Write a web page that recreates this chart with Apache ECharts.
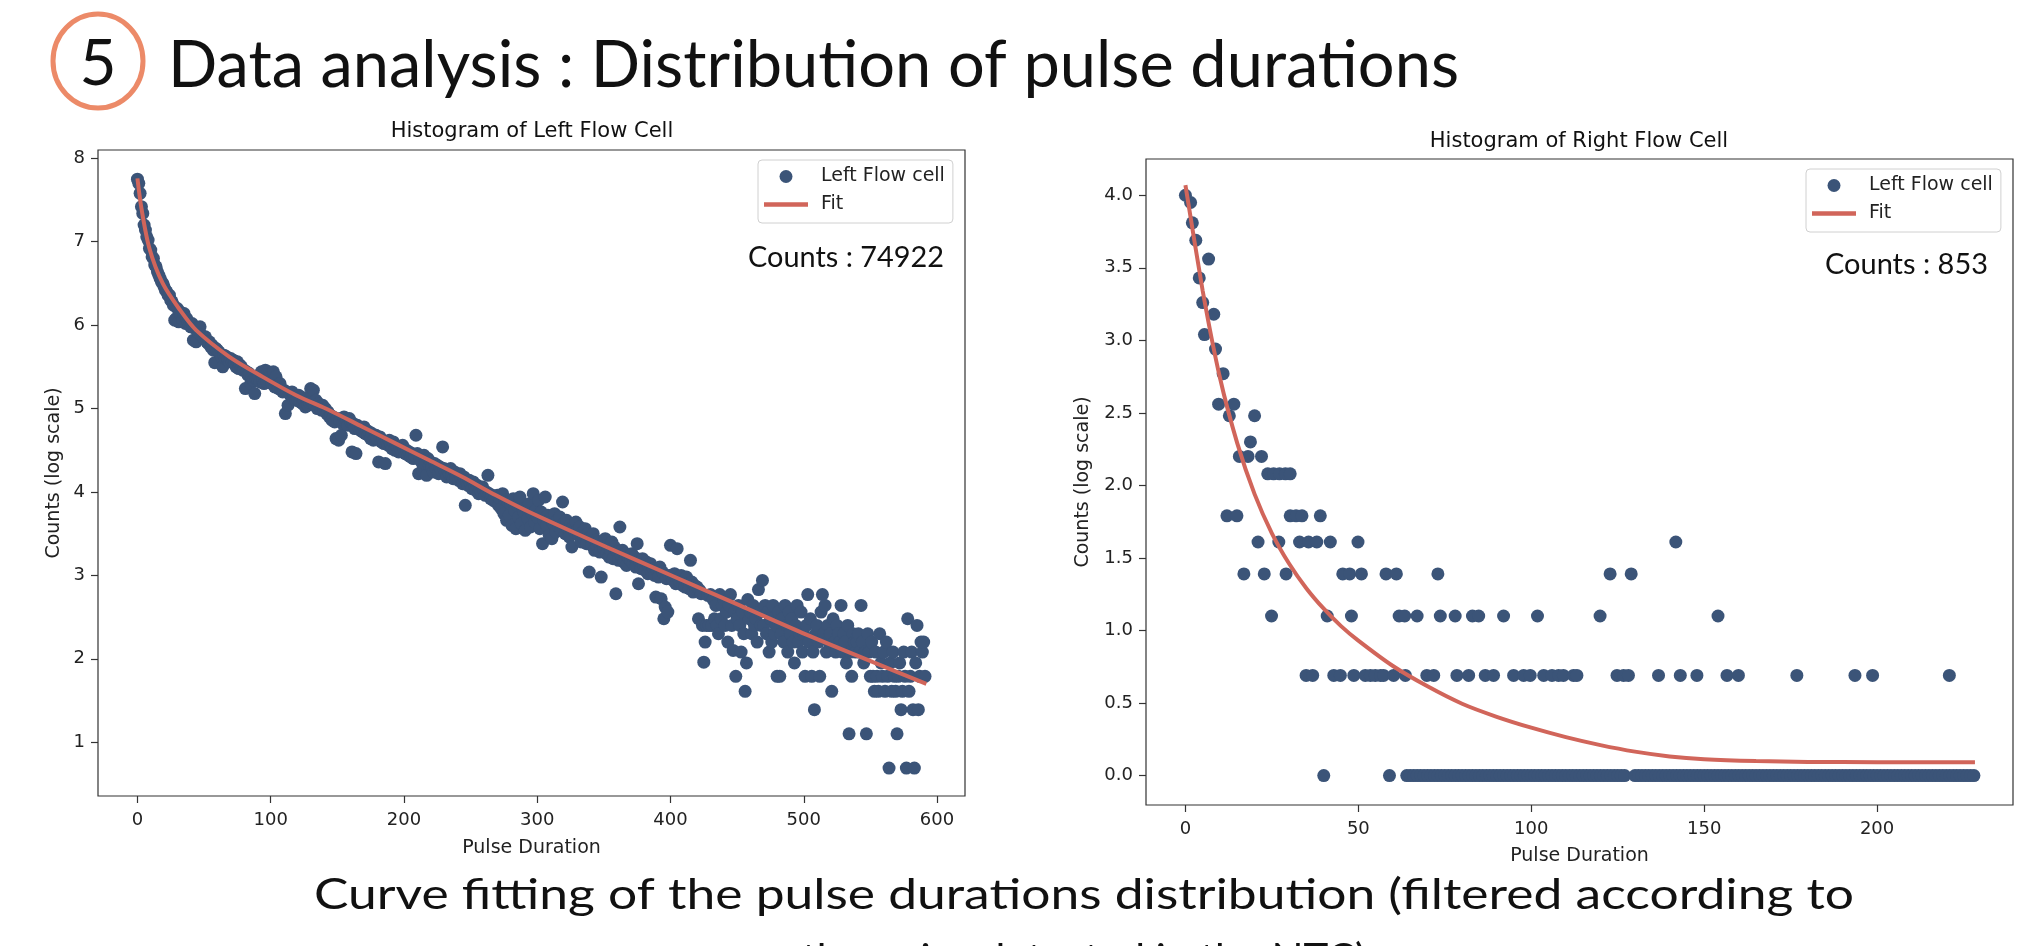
<!DOCTYPE html>
<html>
<head>
<meta charset="utf-8">
<title>Data analysis : Distribution of pulse durations</title>
<script src="https://cdn.jsdelivr.net/npm/echarts@6/dist/echarts.min.js"></script>
<style>
  html, body { margin: 0; padding: 0; background: #fff; }
  #chart { width: 2036px; height: 946px; }
</style>
</head>
<body>
<div id="chart"></div>
<script>
// log(counts) per pulse-duration bin, left flow cell (bin index = pulse duration)
const leftLogCounts = [
  7.75, 7.70, 7.58, 7.42, 7.34, 7.20, 7.14, 7.06, 7.02, 6.92,
  6.90, 6.82, 6.80, 6.72, 6.70, 6.64, 6.60, 6.56, 6.52, 6.50,
  6.46, 6.42, 6.40, 6.36, 6.36, 6.30, 6.28, 6.24, 6.06, 6.08,
  6.20, 6.04, 6.16, 6.12, 6.06, 6.14, 6.02, 6.08, 6.04, 6.00,
  5.98, 6.02, 5.82, 5.96, 5.80, 5.94, 5.90, 5.98, 5.88, 5.86,
  5.84, 5.86, 5.80, 5.78, 5.80, 5.74, 5.76, 5.70, 5.55, 5.72,
  5.70, 5.68, 5.66, 5.62, 5.50, 5.64, 5.60, 5.62, 5.58, 5.56,
  5.60, 5.56, 5.58, 5.54, 5.50, 5.56, 5.48, 5.52, 5.50, 5.46,
  5.46, 5.24, 5.44, 5.40, 5.42, 5.30, 5.38, 5.34, 5.18, 5.36,
  5.36, 5.40, 5.32, 5.44, 5.34, 5.30, 5.46, 5.32, 5.44, 5.42,
  5.40, 5.30, 5.44, 5.26, 5.38, 5.28, 5.24, 5.30, 5.22, 5.20,
  5.22, 4.94, 5.20, 5.04, 5.18, 5.16, 5.20, 5.12, 5.14, 5.10,
  5.12, 5.16, 5.08, 5.14, 5.06, 5.10, 5.02, 5.12, 5.04, 5.08,
  5.24, 5.08, 5.22, 5.04, 5.10, 5.00, 5.06, 5.02, 4.98, 5.04,
  4.98, 5.00, 4.94, 4.96, 4.90, 4.92, 4.86, 4.90, 4.84, 4.64,
  4.88, 4.62, 4.86, 4.68, 4.82, 4.90, 4.84, 4.86, 4.80, 4.88,
  4.84, 4.48, 4.82, 4.76, 4.46, 4.80, 4.78, 4.74, 4.76, 4.72,
  4.78, 4.70, 4.74, 4.68, 4.72, 4.64, 4.70, 4.62, 4.66, 4.68,
  4.64, 4.36, 4.66, 4.60, 4.62, 4.58, 4.34, 4.60, 4.56, 4.62,
  4.58, 4.52, 4.60, 4.50, 4.56, 4.54, 4.48, 4.52, 4.50, 4.56,
  4.52, 4.46, 4.50, 4.44, 4.48, 4.42, 4.46, 4.40, 4.44, 4.68,
  4.46, 4.22, 4.42, 4.36, 4.26, 4.44, 4.34, 4.20, 4.40, 4.32,
  4.36, 4.30, 4.24, 4.34, 4.28, 4.32, 4.22, 4.30, 4.26, 4.54,
  4.28, 4.24, 4.18, 4.26, 4.22, 4.28, 4.20, 4.16, 4.24, 4.18,
  4.20, 4.14, 4.22, 4.16, 4.10, 4.18, 3.84, 4.12, 4.08, 4.14,
  4.10, 4.04, 4.12, 4.06, 4.02, 4.08, 3.98, 4.04, 4.00, 4.06,
  4.02, 3.96, 4.00, 4.20, 3.98, 3.92, 3.96, 3.90, 3.94, 3.88,
  3.96, 3.84, 3.92, 3.80, 3.98, 3.74, 3.90, 3.66, 3.88, 3.72,
  3.86, 3.60, 3.92, 3.78, 3.56, 3.84, 3.70, 3.94, 3.62, 3.80,
  3.76, 3.54, 3.82, 3.68, 3.86, 3.58, 3.74, 3.98, 3.64, 3.78,
  3.70, 3.90, 3.56, 3.76, 3.38, 3.66, 3.94, 3.60, 3.72, 3.48,
  3.68, 3.44, 3.62, 3.74, 3.52, 3.66, 3.58, 3.70, 3.54, 3.88,
  3.62, 3.50, 3.66, 3.56, 3.46, 3.60, 3.34, 3.58, 3.52, 3.64,
  3.54, 3.48, 3.58, 3.40, 3.52, 3.44, 3.56, 3.38, 3.50, 3.04,
  3.46, 3.36, 3.50, 3.30, 3.42, 3.34, 3.40, 3.28, 2.98, 3.38,
  3.32, 3.44, 3.26, 3.36, 3.22, 3.30, 3.40, 3.20, 3.34, 2.78,
  3.28, 3.18, 3.58, 3.24, 3.30, 3.16, 3.26, 3.12, 3.22, 3.20,
  3.18, 3.26, 3.14, 3.22, 3.10, 3.38, 2.90, 3.16, 3.08, 3.20,
  3.12, 3.06, 3.16, 3.02, 3.10, 3.14, 3.04, 3.08, 3.00, 2.74,
  3.06, 2.98, 3.10, 2.72, 3.04, 2.48, 2.62, 2.96, 2.56, 3.00,
  3.36, 2.98, 2.94, 3.02, 2.90, 3.32, 2.96, 2.92, 3.00, 2.88,
  2.94, 2.86, 2.98, 2.90, 2.84, 3.18, 2.92, 2.80, 2.88, 2.84,
  2.86, 2.48, 2.82, 2.78, 2.40, 1.96, 2.20, 2.40, 2.76, 2.40,
  2.77, 2.40, 2.71, 2.48, 2.64, 2.40, 2.30, 2.77, 2.48, 2.64,
  2.71, 2.40, 2.56, 2.20, 2.64, 2.77, 2.40, 2.10, 2.56, 1.79,
  2.48, 2.64, 2.40, 2.08, 2.56, 2.30, 1.61, 1.95, 2.71, 2.48,
  2.56, 2.30, 2.64, 2.40, 2.48, 2.20, 2.83, 2.56, 2.40, 2.94,
  2.40, 2.64, 2.30, 2.56, 2.08, 2.48, 2.20, 2.64, 2.30, 2.40,
  1.79, 2.56, 1.79, 2.30, 2.48, 2.20, 2.64, 2.40, 2.08, 2.56,
  2.30, 2.48, 2.20, 1.95, 2.40, 2.64, 2.20, 2.30, 2.56, 2.08,
  2.30, 1.79, 2.40, 2.77, 2.20, 2.48, 1.79, 2.08, 1.39, 2.30,
  2.40, 2.20, 1.79, 2.56, 2.77, 2.30, 2.64, 2.08, 2.40, 2.20,
  2.30, 1.61, 2.48, 2.20, 2.08, 2.40, 2.30, 2.20, 2.64, 2.08,
  2.30, 2.20, 1.95, 2.40, 1.10, 2.08, 1.79, 2.30, 2.20, 2.08,
  2.20, 2.30, 2.08, 2.64, 2.20, 1.95, 2.08, 1.10, 2.30, 2.08,
  1.79, 2.20, 1.79, 1.61, 2.08, 1.79, 1.61, 2.30, 1.95, 1.79,
  2.08, 1.61, 2.20, 1.79, 0.69, 1.95, 1.61, 2.08, 1.79, 1.61,
  1.10, 1.79, 1.95, 1.39, 1.61, 2.08, 1.79, 0.69, 2.48, 1.61,
  1.79, 2.08, 1.39, 0.69, 1.95, 2.40, 1.39, 1.79, 2.20, 2.08,
  2.20, 1.79
];

// fitted curve, left flow cell: [pulse duration, log count]
const leftFit = [
  [0, 7.76], [3, 7.40], [9, 6.92], [19, 6.50], [32, 6.18], [44, 5.94],
  [69, 5.62], [94, 5.38], [119, 5.16], [144, 4.98], [169, 4.78], [194, 4.58],
  [219, 4.38], [244, 4.18], [269, 3.96], [294, 3.76], [352, 3.34], [402, 2.99],
  [452, 2.64], [502, 2.29], [552, 1.96], [592, 1.70]
];

// right flow cell bins with count > 1: [pulse duration, log count]
const rightPoints = [
  [0, 4.00], [1.5, 3.95], [2, 3.81], [3, 3.69], [4, 3.43], [5, 3.26], [5.5, 3.04],
  [6.7, 3.56], [8.2, 3.18], [8.7, 2.94], [9.6, 2.56], [10.9, 2.77], [12.7, 2.48],
  [14, 2.56], [15.6, 2.20], [18.1, 2.20], [18.8, 2.30], [20, 2.48], [22, 2.20],
  [23.8, 2.08], [25.5, 2.08], [27.2, 2.08], [28.9, 2.08], [30.3, 2.08],
  [12, 1.79], [14.9, 1.79], [30.3, 1.79], [32, 1.79], [33.7, 1.79], [39, 1.79],
  [21, 1.61], [27, 1.61], [33, 1.61], [35.6, 1.61], [38, 1.61], [41.9, 1.61], [49.9, 1.61], [141.8, 1.61],
  [16.9, 1.39], [22.8, 1.39], [29.1, 1.39], [45.5, 1.39], [47.5, 1.39], [50.9, 1.39], [58, 1.39],
  [61, 1.39], [73, 1.39], [122.8, 1.39], [128.9, 1.39],
  [24.9, 1.10], [41, 1.10], [48, 1.10], [61.8, 1.10], [63.4, 1.10], [67, 1.10], [73.7, 1.10],
  [78, 1.10], [83, 1.10], [84.8, 1.10], [92, 1.10], [101.8, 1.10], [119.9, 1.10], [154, 1.10],
  [34.9, 0.69], [36.8, 0.69], [42.9, 0.69], [44.8, 0.69], [48.7, 0.69], [52, 0.69], [53.5, 0.69],
  [54.9, 0.69], [56.4, 0.69], [57.3, 0.69], [60.2, 0.69], [63.6, 0.69], [69.8, 0.69], [71.8, 0.69],
  [78.5, 0.69], [81.9, 0.69], [86.7, 0.69], [89.1, 0.69], [94.9, 0.69], [97.8, 0.69], [99.7, 0.69],
  [103.6, 0.69], [106, 0.69], [107.9, 0.69], [109.3, 0.69], [112.2, 0.69], [113.2, 0.69],
  [124.8, 0.69], [126.7, 0.69], [128.1, 0.69], [136.8, 0.69], [143.1, 0.69], [147.9, 0.69],
  [156.6, 0.69], [159.9, 0.69], [176.8, 0.69], [193.6, 0.69], [198.7, 0.69], [220.9, 0.69]
];

// right flow cell bins with a single count (log 1 = 0)
const rightZeroX = [
  40, 59,
  64, 65, 66, 67, 68, 69, 70, 71, 72, 73, 74, 75, 76, 77, 78, 79, 80, 81, 82, 83,
  84, 85, 86, 87, 88, 89, 90, 91, 92, 93, 94, 95, 96, 97, 98, 99, 100, 101, 102, 103,
  104, 105, 106, 107, 108, 109, 110, 111, 112, 113, 114, 115, 116, 117, 118, 119, 120,
  121, 122, 123, 124, 125, 126, 127,
  130, 131, 132, 133, 134, 135, 136, 137, 138, 139, 140, 141, 142, 143, 144, 145, 146,
  147, 148, 149, 150, 151, 152, 153, 154, 155, 156, 157, 158, 159, 160, 161, 162, 163,
  164, 165, 166, 167, 168, 169, 170, 171, 172, 173, 174, 175, 176, 177, 178, 179, 180,
  181, 182, 183, 184, 185, 186, 187, 188, 189, 190, 191, 192, 193, 194, 195, 196, 197,
  198, 199, 200, 201, 202, 203, 204, 205, 206, 207, 208, 209, 210, 211, 212, 213, 214,
  215, 216, 217, 218, 219, 220, 221, 222, 223, 224, 225, 226, 227, 228
];

// fitted curve, right flow cell
const rightFit = [
  [0, 4.07], [5, 3.34], [10, 2.74], [15, 2.29], [20, 1.94], [25, 1.67], [30, 1.46],
  [35, 1.29], [40, 1.15], [45, 1.03], [50, 0.93], [60, 0.755], [70, 0.615], [80, 0.495],
  [90, 0.405], [100, 0.33], [110, 0.265], [120, 0.21], [130, 0.165], [140, 0.132],
  [150, 0.113], [165, 0.100], [180, 0.094], [200, 0.092], [228.3, 0.091]
];

const leftXTicks = [0, 100, 200, 300, 400, 500, 600];
const leftYTicks = [1, 2, 3, 4, 5, 6, 7, 8];
const rightXTicks = [0, 50, 100, 150, 200];
const rightYTicks = [0, 0.5, 1, 1.5, 2, 2.5, 3, 3.5, 4];

const DOT = '#3b5478';
const FIT = '#d1655a';
const INK = '#222';
const SLIDE_FONT = '{s}px Lato';
// thick bar in a 44x13 box, used as the legend icon of the fit line
const FIT_ICON = 'path://M0,0L0.1,0M0,4.3H44V8.7H0ZM0,13L0.1,13';

const chart = echarts.init(document.getElementById('chart'));

// slide text is stretched to the widths measured on the reference
const measure = document.createElement('canvas').getContext('2d');
function slideText(text, size, x, y, width, align) {
  const font = SLIDE_FONT.replace('{s}', size);
  measure.font = font;
  const w = measure.measureText(text).width;
  return {
    type: 'text', x: x, y: y, scaleX: width ? width / w : 1,
    style: {
      text: text, font: font, fill: '#111',
      textAlign: align || 'left', textVerticalAlign: 'middle'
    }
  };
}

function xAxisOf(grid, min, max, ticks, nameGap) {
  return {
    gridIndex: grid, type: 'value', min: min, max: max,
    name: 'Pulse Duration', nameLocation: 'middle', nameGap: nameGap,
    nameTextStyle: { fontFamily: 'DejaVu Sans', fontSize: 19, color: INK },
    splitLine: { show: false },
    axisLine: { show: false, onZero: false },
    axisTick: { show: true, inside: false, length: 7, customValues: ticks, lineStyle: { color: '#333', width: 1.2 } },
    axisLabel: { customValues: ticks, margin: 15, fontFamily: 'DejaVu Sans', fontSize: 18, color: INK }
  };
}

function yAxisOf(grid, min, max, ticks, nameGap, fmt) {
  return {
    gridIndex: grid, type: 'value', min: min, max: max,
    name: 'Counts (log scale)', nameLocation: 'middle', nameGap: nameGap,
    nameTextStyle: { fontFamily: 'DejaVu Sans', fontSize: 19, color: INK },
    splitLine: { show: false },
    axisLine: { show: false, onZero: false },
    axisTick: { show: true, inside: false, length: 7, customValues: ticks, lineStyle: { color: '#333', width: 1.2 } },
    axisLabel: { customValues: ticks, margin: 13, fontFamily: 'DejaVu Sans', fontSize: 18, color: INK, formatter: fmt }
  };
}

function legendAt(left, top) {
  return {
    orient: 'vertical', left: left, top: top,
    data: [{ name: 'Left Flow cell', icon: 'circle' }, { name: 'Fit', icon: FIT_ICON }],
    itemWidth: 44, itemHeight: 13, itemGap: 9,
    padding: [7, 8, 9, 6],
    borderColor: '#d0d0d0', borderWidth: 1, borderRadius: 4,
    backgroundColor: 'rgba(255,255,255,0.8)',
    textStyle: { fontFamily: 'DejaVu Sans', fontSize: 19, color: INK, padding: [0, 0, 0, 8] }
  };
}

const option = {
  animation: false,
  backgroundColor: '#fff',
  title: [
    { text: 'Histogram of Left Flow Cell', left: 532, top: 121, textAlign: 'center', padding: 0,
      textStyle: { fontFamily: 'DejaVu Sans', fontSize: 21, fontWeight: 'normal', color: '#111' } },
    { text: 'Histogram of Right Flow Cell', left: 1579, top: 131, textAlign: 'center', padding: 0,
      textStyle: { fontFamily: 'DejaVu Sans', fontSize: 21, fontWeight: 'normal', color: '#111' } }
  ],
  legend: [legendAt(758, 160), legendAt(1806, 169)],
  grid: [
    { left: 98, top: 150, width: 867, height: 646, show: true, borderColor: '#333', borderWidth: 1.2 },
    { left: 1146, top: 159, width: 867, height: 646, show: true, borderColor: '#333', borderWidth: 1.2 }
  ],
  xAxis: [
    xAxisOf(0, -29.6, 621, leftXTicks, 43),
    xAxisOf(1, -11.4, 239.3, rightXTicks, 42)
  ],
  yAxis: [
    yAxisOf(0, 0.355, 8.1, leftYTicks, 34, function (v) { return String(v); }),
    yAxisOf(1, -0.203, 4.25, rightYTicks, 53, function (v) { return v.toFixed(1); })
  ],
  series: [
    {
      name: 'Left Flow cell', type: 'scatter', xAxisIndex: 0, yAxisIndex: 0,
      data: leftLogCounts.map(function (v, i) { return [i, v]; }),
      symbolSize: 13, itemStyle: { color: DOT, opacity: 1 }, z: 2
    },
    {
      name: 'Fit', type: 'line', xAxisIndex: 0, yAxisIndex: 0, data: leftFit,
      smooth: 0.3, symbol: 'none', lineStyle: { color: FIT, width: 4 }, itemStyle: { color: FIT }, z: 3
    },
    {
      name: 'Left Flow cell', type: 'scatter', xAxisIndex: 1, yAxisIndex: 1,
      data: rightPoints.concat(rightZeroX.map(function (x) { return [x, 0]; })),
      symbolSize: 13, itemStyle: { color: DOT, opacity: 1 }, z: 2
    },
    {
      name: 'Fit', type: 'line', xAxisIndex: 1, yAxisIndex: 1, data: rightFit,
      smooth: 0.2, symbol: 'none', lineStyle: { color: FIT, width: 4 }, itemStyle: { color: FIT }, z: 3
    }
  ],
  graphic: [
    { type: 'ellipse', shape: { cx: 98, cy: 61, rx: 45, ry: 47 },
      style: { fill: 'none', stroke: '#ec8a68', lineWidth: 5 } },
    slideText('5', 64, 98, 64, 0, 'center'),
    slideText('Data analysis : Distribution of pulse durations', 66, 168, 66, 1291),
    slideText('Counts : 74922', 28, 748, 258, 196),
    slideText('Counts : 853', 28, 1825, 265, 163),
    slideText('Curve fitting of the pulse durations distribution (filtered according to', 42, 314, 895, 1540),
    slideText('the noise detected in the NTC)', 42, 1084, 960, 0, 'center')
  ]
};

chart.setOption(option);
</script>
</body>
</html>
